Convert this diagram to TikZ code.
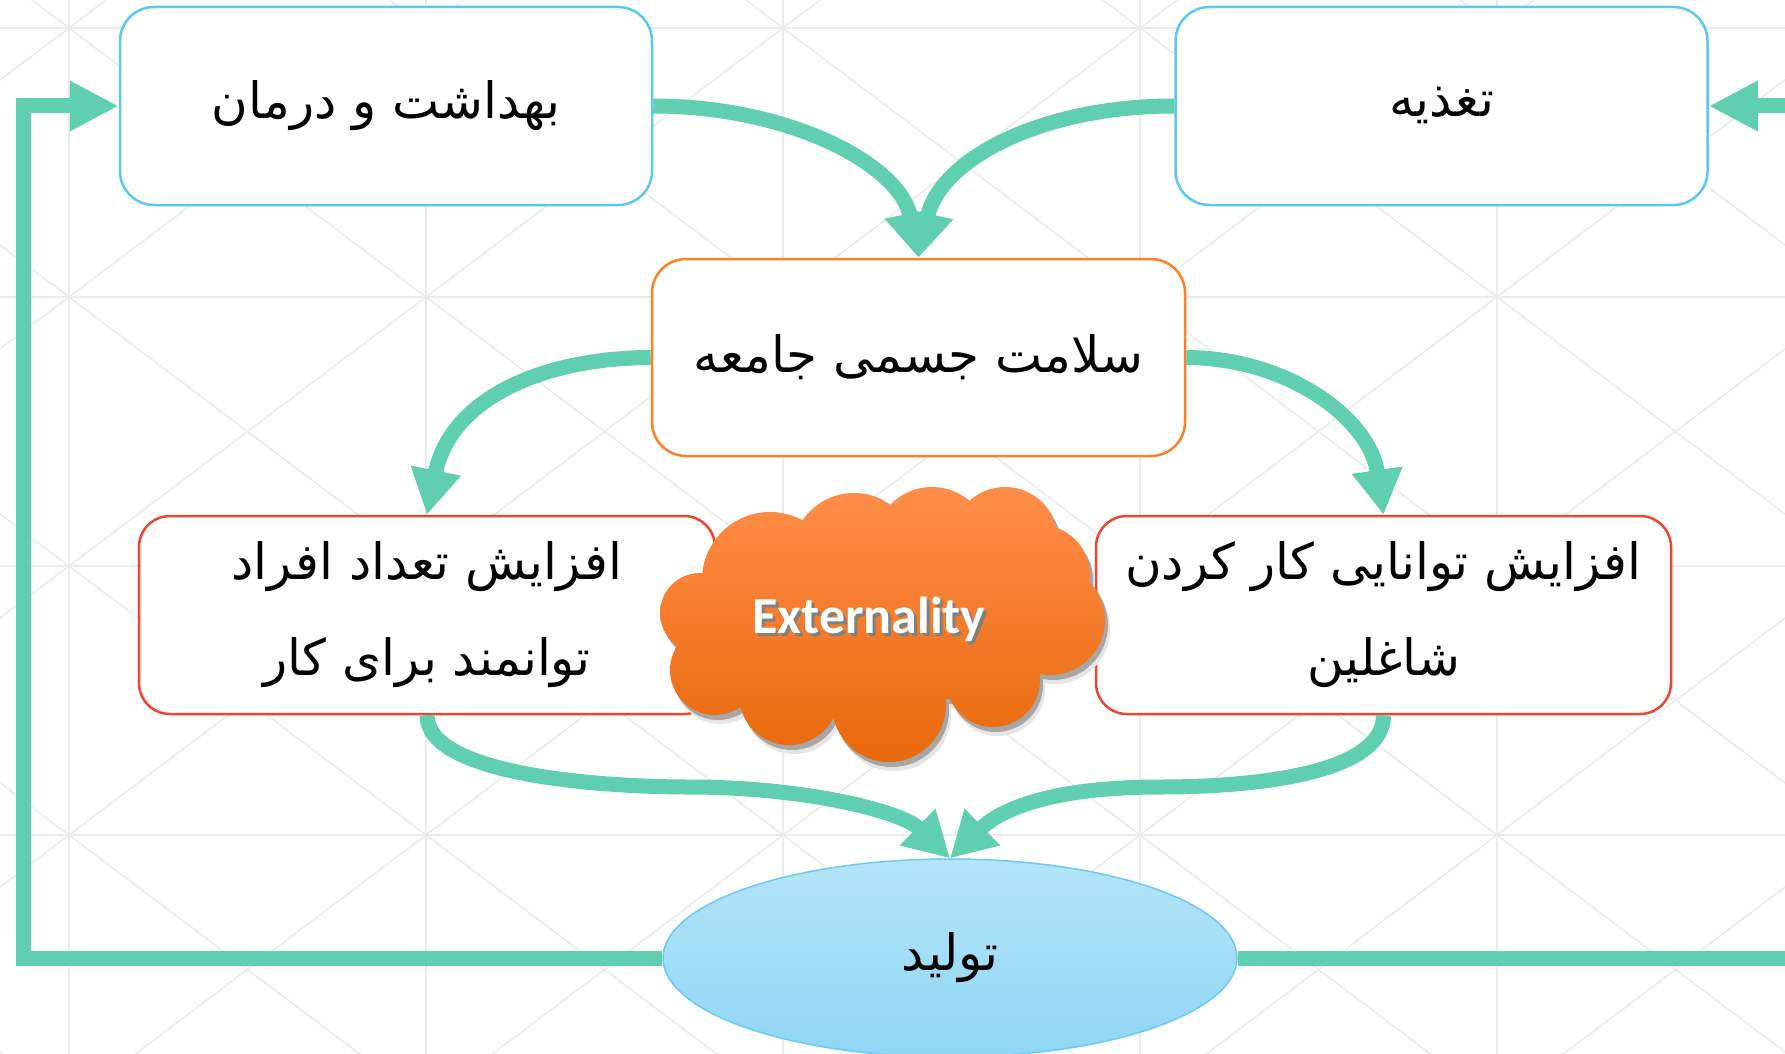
\documentclass[tikz,border=0pt]{standalone}
\usepackage{fontspec}
\usetikzlibrary{arrows.meta,shapes.geometric}
\TeXXeTstate=1
\newfontfamily\fa[Script=Arabic]{DejaVu Sans}
\newfontfamily\calfont{Carlito}
\definecolor{grn}{HTML}{5FCFB0}
\definecolor{bluebd}{HTML}{5BC8F0}
\definecolor{orgbd}{HTML}{FF7F27}
\definecolor{redbd}{HTML}{EE4430}
\definecolor{gridc}{HTML}{EBEBEB}
\definecolor{cloudtop}{HTML}{FF8D4A}
\definecolor{cloudbot}{HTML}{E8690A}
\definecolor{elltop}{HTML}{B4E4F8}
\definecolor{ellbot}{HTML}{90D6F6}
\definecolor{ellbd}{HTML}{6CC9F0}
\tikzset{
  gl/.style={draw=gridc, line width=1.5pt},
  box/.style={draw, line width=2.5pt, fill=white, rounded corners=34pt, inner sep=0pt,
    align=center, minimum width=532pt, minimum height=198pt,
    font={\fa\fontsize{50}{96}\selectfont}},
  conn/.style={draw=grn, line width=15pt, -{Triangle[length=45pt,width=48pt]}},
  loopline/.style={draw=grn, line width=15pt, line join=miter, -{Triangle[length=49pt,width=47pt]}},
}
\begin{document}
\begin{tikzpicture}[x=1pt,y=-1pt]
\useasboundingbox (0,0) rectangle (1785,1054);
\fill[white] (0,0) rectangle (1785,1054);
% background grid
\begin{scope}
\clip (0,0) rectangle (1785,1054);
\foreach \x in {-288,69,426,783,1140,1497,1854} \draw[gl] (\x,-241) -- (\x,1104);
\foreach \y in {-241,28,297,566,835,1104} \draw[gl] (-288,\y) -- (1854,\y);
\foreach \x in {-288,69,426,783,1140,1497} \foreach \y in {-241,28,297,566,835} {
  \draw[gl] (\x,\y) -- ++(357,269);
  \draw[gl] (\x,\y+269) -- ++(357,-269);
}
\end{scope}
% nodes
\node[box, draw=bluebd] (b1) at (386,106) {\beginR بهداشت و درمان\endR};
\node[box, draw=bluebd] (b2) at (1441.5,106) {\beginR تغذیه\endR};
\node[box, draw=orgbd, minimum width=533pt, minimum height=197pt] (cb) at (918.5,357.5) {\beginR سلامت جسمی جامعه\endR};
\node[box, draw=redbd, rounded corners=31pt, minimum width=576pt] (lb) at (427,615)
  {\beginR افزایش تعداد افراد\endR\\\beginR توانمند برای کار\endR};
\node[box, draw=redbd, rounded corners=31pt, minimum width=575pt] (rb) at (1383.5,615)
  {\beginR افزایش توانایی کار کردن\endR\\\beginR شاغلین\endR};
\node[ellipse, draw=ellbd, line width=1.5pt, top color=elltop, bottom color=ellbot,
  minimum width=574pt, minimum height=198pt, inner sep=0pt,
  font={\fa\fontsize{50}{96}\selectfont}] (el) at (950,958) {\beginR تولید\endR};
% feedback loops
\coordinate (l1) at (23,958);
\coordinate (l2) at (23,106);
\coordinate (r1) at (1810,958);
\coordinate (r2) at (1810,106);
\draw[loopline] (el.west) -- (l1) -- (l2) -- (b1.west);
\draw[loopline] (el.east) -- (r1) -- (r2) -- (b2.east);
% connectors
\draw[conn] (b1.east) .. controls (790,106) and (900,165) .. (cb.north);
\draw[conn] (b2.west) .. controls (1040,106) and (940,160) .. (cb.north);
\draw[conn] (cb.west) .. controls (540,358) and (450,400) .. (lb.north);
\draw[conn] (cb.east) .. controls (1290,358) and (1370,420) .. (rb.north);
\draw[conn] (lb.south) .. controls (427,775) and (600,787) .. (690,787)
   .. controls (800,787) and (900,810) .. (el.north);
\draw[conn] (rb.south) .. controls (1383.5,775) and (1250,787) .. (1160,787)
   .. controls (1050,787) and (1000,810) .. (el.north);
% cloud
\begin{scope}[shift={(5,9)}]
\fill[black!10] foreach \cx/\cy/\r in {700/613/40,715/670/45,789/695/50,889/705/57,993/680/47,1050/620/55,1040/575/50,1005/540/53,932/545/58,854/555/62,770/580/68,880/620/100,820/625/80,960/615/85}{(\cx,\cy) circle (\r pt)};
\end{scope}
\begin{scope}[shift={(3,5)}]
\fill[black!35] foreach \cx/\cy/\r in {700/613/40,715/670/45,789/695/50,889/705/57,993/680/47,1050/620/55,1040/575/50,1005/540/53,932/545/58,854/555/62,770/580/68,880/620/100,820/625/80,960/615/85}{(\cx,\cy) circle (\r pt)};
\end{scope}
\shade[top color=cloudtop, bottom color=cloudbot] foreach \cx/\cy/\r in {700/613/40,715/670/45,789/695/50,889/705/57,993/680/47,1050/620/55,1040/575/50,1005/540/53,932/545/58,854/555/62,770/580/68,880/620/100,820/625/80,960/615/85}{(\cx,\cy) circle (\r pt)};
\node[font={\calfont\bfseries\fontsize{52}{60}\selectfont}, text=black!50, anchor=base] at (872,636) {Externality};
\node[font={\calfont\bfseries\fontsize{52}{60}\selectfont}, text=white, anchor=base] (ext) at (869,633) {Externality};
\end{tikzpicture}
\end{document}
